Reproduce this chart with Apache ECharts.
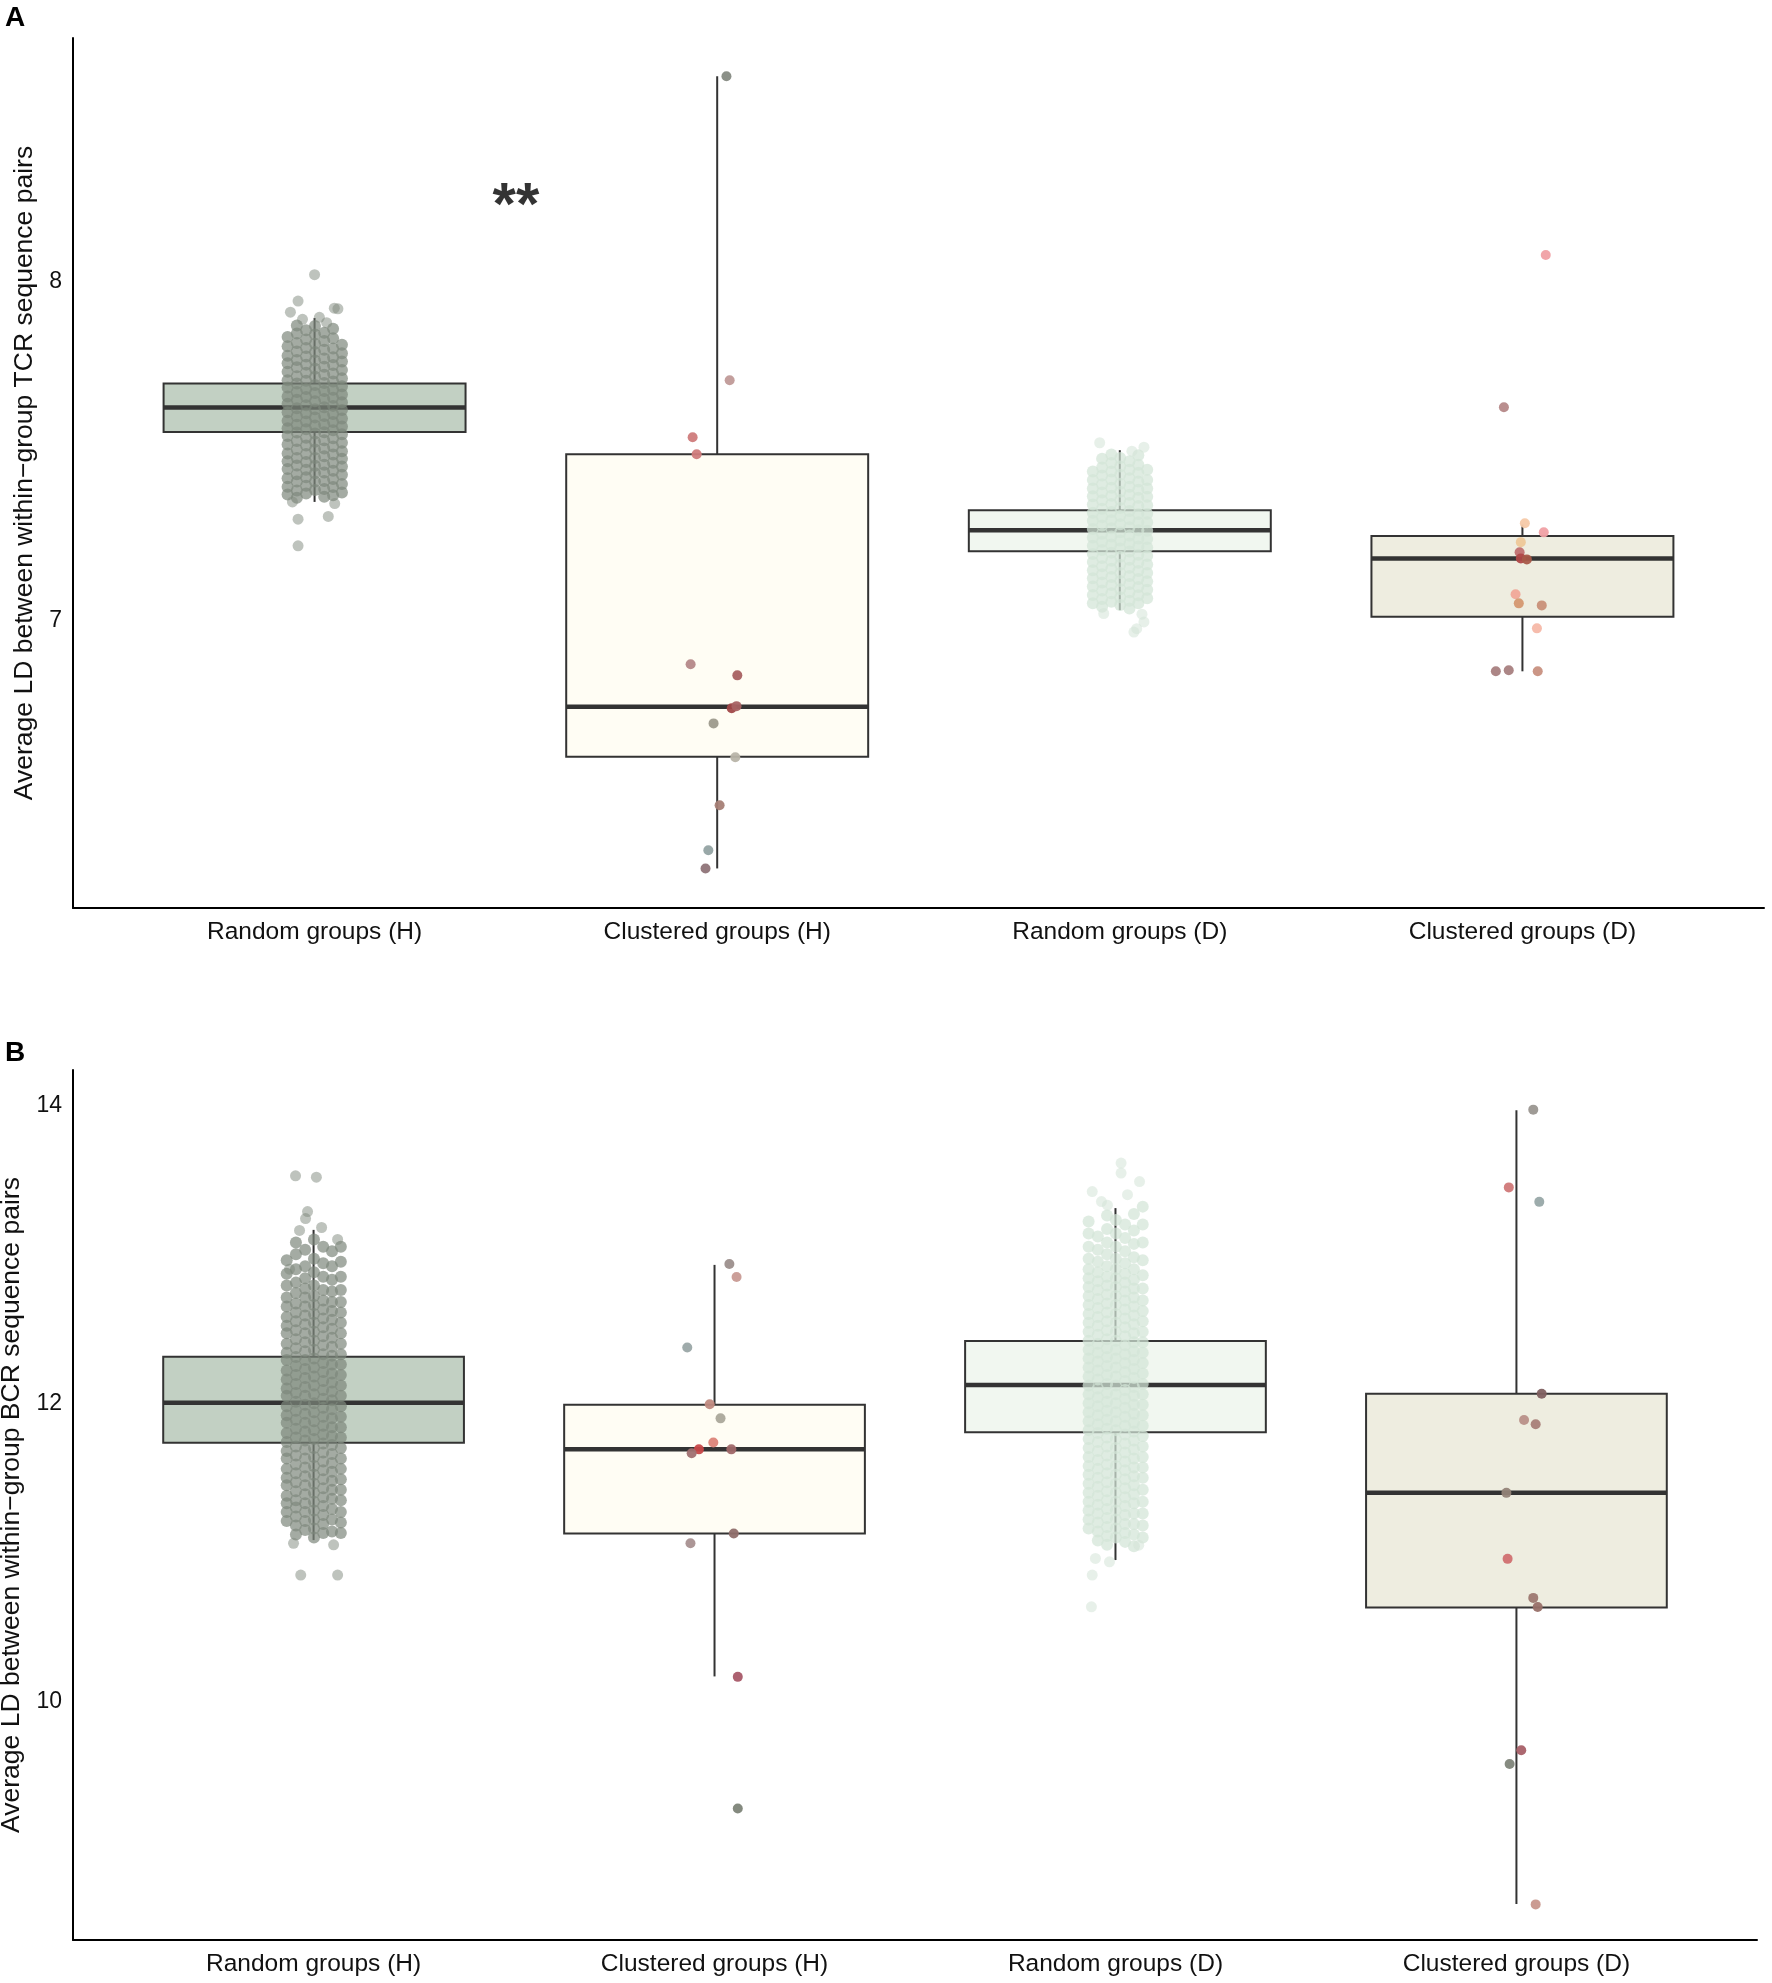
<!DOCTYPE html>
<html>
<head>
<meta charset="utf-8">
<title>Average LD within groups</title>
<script src="https://cdn.jsdelivr.net/npm/echarts@6/dist/echarts.min.js"></script>
<style>
html, body { margin: 0; padding: 0; background: #fff; }
#chart { width: 1772px; height: 1983px; }
</style>
</head>
<body>
<div id="chart"></div>
<script>
var categories = ['Random groups (H)', 'Clustered groups (H)', 'Random groups (D)', 'Clustered groups (D)'];
var boxFills = ['#c2d0c3', '#fffdf4', '#f1f7f0', '#eeede0'];

// box stats: [lower whisker, Q1, median, Q3, upper whisker]
var boxesTCR = [
	[7.350, 7.557, 7.629, 7.700, 7.894],
	[6.266, 6.596, 6.744, 7.491, 8.609],
	[7.030, 7.204, 7.266, 7.325, 7.503],
	[6.849, 7.010, 7.183, 7.249, 7.283]
];
var boxesBCR = [
	[11.082, 11.735, 12.004, 12.313, 13.164],
	[10.167, 11.126, 11.691, 11.991, 12.929],
	[10.948, 11.805, 12.123, 12.418, 13.310],
	[8.640, 10.629, 11.399, 12.064, 13.967]
];

// jitter offsets of the point columns in the random-group clouds
var jitterCols = [-0.067, -0.044, -0.021, 0.001, 0.024, 0.046, 0.068];

// TCR, random groups (H)
var randHA = [
	[7.372, 7.395, 7.42, 7.447, 7.47, 7.493, 7.52, 7.545, 7.568, 7.59, 7.615, 7.64, 7.662, 7.688, 7.71, 7.735, 7.76, 7.782, 7.81, 7.838],
	[7.362, 7.384, 7.41, 7.432, 7.458, 7.48, 7.505, 7.53, 7.555, 7.578, 7.603, 7.627, 7.652, 7.675, 7.7, 7.722, 7.748, 7.77, 7.795, 7.82, 7.848, 7.872],
	[7.375, 7.398, 7.423, 7.445, 7.468, 7.492, 7.517, 7.54, 7.565, 7.588, 7.612, 7.636, 7.66, 7.684, 7.708, 7.732, 7.756, 7.78, 7.805, 7.83, 7.858],
	[7.385, 7.41, 7.435, 7.457, 7.48, 7.505, 7.528, 7.552, 7.576, 7.6, 7.624, 7.648, 7.672, 7.696, 7.72, 7.744, 7.768, 7.793, 7.818, 7.845, 7.87],
	[7.365, 7.388, 7.412, 7.437, 7.46, 7.485, 7.508, 7.532, 7.556, 7.58, 7.604, 7.63, 7.654, 7.678, 7.702, 7.726, 7.75, 7.774, 7.8, 7.826, 7.85],
	[7.37, 7.394, 7.418, 7.442, 7.466, 7.49, 7.514, 7.538, 7.562, 7.586, 7.61, 7.634, 7.658, 7.682, 7.706, 7.73, 7.755, 7.778, 7.804, 7.834, 7.862],
	[7.378, 7.403, 7.43, 7.455, 7.478, 7.5, 7.525, 7.55, 7.573, 7.597, 7.622, 7.645, 7.668, 7.692, 7.716, 7.74, 7.765, 7.79, 7.815]
];
var randHA_out = [[0.0, 8.022], [-0.041, 7.944], [-0.060, 7.911], [0.049, 7.923], [0.058, 7.921], [0.012, 7.896],
	[-0.041, 7.299], [0.034, 7.307], [-0.041, 7.220], [-0.055, 7.35], [0.05, 7.345], [-0.03, 7.89], [0.03, 7.88]];

// TCR, random groups (D)
var randDA = [
	[7.05, 7.075, 7.1, 7.124, 7.148, 7.172, 7.196, 7.22, 7.245, 7.27, 7.294, 7.318, 7.342, 7.367, 7.39, 7.415, 7.44],
	[7.04, 7.063, 7.088, 7.112, 7.136, 7.16, 7.184, 7.208, 7.232, 7.256, 7.28, 7.305, 7.33, 7.355, 7.378, 7.402, 7.428, 7.452, 7.478],
	[7.055, 7.08, 7.104, 7.128, 7.152, 7.176, 7.2, 7.224, 7.248, 7.272, 7.296, 7.32, 7.344, 7.368, 7.392, 7.416, 7.44, 7.465, 7.49],
	[7.045, 7.068, 7.092, 7.116, 7.14, 7.164, 7.188, 7.212, 7.236, 7.26, 7.284, 7.308, 7.332, 7.356, 7.38, 7.404, 7.43, 7.455, 7.48],
	[7.035, 7.058, 7.083, 7.107, 7.131, 7.155, 7.179, 7.203, 7.227, 7.251, 7.275, 7.299, 7.323, 7.347, 7.371, 7.395, 7.42, 7.445, 7.47],
	[7.05, 7.074, 7.098, 7.122, 7.146, 7.17, 7.194, 7.218, 7.242, 7.266, 7.29, 7.314, 7.338, 7.362, 7.386, 7.41, 7.436, 7.46, 7.488],
	[7.065, 7.09, 7.115, 7.14, 7.165, 7.19, 7.215, 7.24, 7.265, 7.29, 7.315, 7.34, 7.365, 7.39, 7.415, 7.445]
];
var randDA_out = [[-0.05, 7.525], [0.06, 7.512], [0.03, 7.5], [0.042, 6.975], [0.06, 6.995], [0.035, 6.965],
	[-0.04, 7.02], [0.055, 7.018]];

// BCR, random groups (H)
var randHB = [
	[11.21, 11.27, 11.33, 11.38, 11.45, 11.5, 11.56, 11.63, 11.68, 11.74, 11.8, 11.87, 11.92, 11.98, 12.05, 12.1, 12.16, 12.22, 12.29, 12.34, 12.4, 12.47, 12.52, 12.58, 12.65, 12.71, 12.79, 12.87, 12.96],
	[11.12, 11.18, 11.24, 11.3, 11.35, 11.41, 11.47, 11.53, 11.59, 11.65, 11.71, 11.77, 11.83, 11.89, 11.95, 12.01, 12.07, 12.13, 12.19, 12.25, 12.31, 12.37, 12.43, 12.49, 12.55, 12.61, 12.67, 12.74, 12.81, 12.9, 13.0, 13.08],
	[11.15, 11.21, 11.27, 11.33, 11.39, 11.45, 11.51, 11.57, 11.63, 11.69, 11.75, 11.81, 11.87, 11.93, 11.99, 12.05, 12.11, 12.17, 12.23, 12.29, 12.35, 12.41, 12.47, 12.53, 12.59, 12.65, 12.71, 12.77, 12.84, 12.92, 13.03],
	[11.1, 11.16, 11.22, 11.28, 11.34, 11.4, 11.46, 11.52, 11.58, 11.64, 11.7, 11.76, 11.82, 11.88, 11.94, 12.0, 12.06, 12.12, 12.18, 12.24, 12.3, 12.36, 12.42, 12.48, 12.54, 12.6, 12.66, 12.72, 12.79, 12.88, 12.97, 13.1],
	[11.13, 11.19, 11.25, 11.31, 11.37, 11.43, 11.49, 11.55, 11.61, 11.67, 11.73, 11.79, 11.85, 11.91, 11.97, 12.03, 12.09, 12.15, 12.21, 12.27, 12.33, 12.39, 12.45, 12.51, 12.57, 12.63, 12.69, 12.76, 12.85, 12.94, 13.05],
	[11.14, 11.22, 11.29, 11.36, 11.42, 11.48, 11.54, 11.6, 11.66, 11.72, 11.78, 11.84, 11.9, 11.96, 12.02, 12.08, 12.14, 12.2, 12.26, 12.32, 12.38, 12.44, 12.5, 12.56, 12.62, 12.68, 12.75, 12.83, 12.92, 13.02],
	[11.13, 11.2, 11.27, 11.35, 11.42, 11.49, 11.56, 11.63, 11.7, 11.77, 11.84, 11.91, 11.98, 12.05, 12.12, 12.19, 12.26, 12.33, 12.4, 12.47, 12.54, 12.61, 12.68, 12.76, 12.85, 12.95, 13.05]
];
var randHB_out = [[-0.045, 13.527], [0.007, 13.518], [-0.015, 13.287], [-0.02, 13.24], [-0.035, 13.16], [0.02, 13.18],
	[-0.032, 10.847], [0.06, 10.847], [-0.05, 11.06], [0.05, 11.05], [-0.06, 12.9], [0.06, 13.1]];

// BCR, random groups (D)
var randDB = [
	[11.16, 11.22, 11.28, 11.34, 11.4, 11.46, 11.52, 11.58, 11.64, 11.7, 11.76, 11.82, 11.88, 11.94, 12.0, 12.06, 12.12, 12.18, 12.24, 12.3, 12.36, 12.42, 12.48, 12.54, 12.6, 12.66, 12.72, 12.78, 12.84, 12.9, 12.97, 13.05, 13.14, 13.22],
	[11.08, 11.14, 11.2, 11.26, 11.32, 11.38, 11.44, 11.5, 11.56, 11.62, 11.68, 11.74, 11.8, 11.86, 11.92, 11.98, 12.04, 12.1, 12.16, 12.22, 12.28, 12.34, 12.4, 12.46, 12.52, 12.58, 12.64, 12.7, 12.76, 12.82, 12.88, 12.95, 13.03, 13.12],
	[11.05, 11.11, 11.17, 11.23, 11.29, 11.35, 11.41, 11.47, 11.53, 11.59, 11.65, 11.71, 11.77, 11.83, 11.89, 11.95, 12.01, 12.07, 12.13, 12.19, 12.25, 12.31, 12.37, 12.43, 12.49, 12.55, 12.61, 12.67, 12.73, 12.79, 12.85, 12.92, 13.0, 13.08, 13.17, 13.26],
	[11.1, 11.16, 11.22, 11.28, 11.34, 11.4, 11.46, 11.52, 11.58, 11.64, 11.7, 11.76, 11.82, 11.88, 11.94, 12.0, 12.06, 12.12, 12.18, 12.24, 12.3, 12.36, 12.42, 12.48, 12.54, 12.6, 12.66, 12.72, 12.78, 12.84, 12.9, 12.97, 13.05, 13.14, 13.23],
	[11.07, 11.13, 11.19, 11.25, 11.31, 11.37, 11.43, 11.49, 11.55, 11.61, 11.67, 11.73, 11.79, 11.85, 11.91, 11.97, 12.03, 12.09, 12.15, 12.21, 12.27, 12.33, 12.39, 12.45, 12.51, 12.57, 12.63, 12.69, 12.75, 12.81, 12.87, 12.94, 13.02, 13.11, 13.2],
	[11.04, 11.12, 11.19, 11.26, 11.33, 11.39, 11.45, 11.51, 11.57, 11.63, 11.69, 11.75, 11.81, 11.87, 11.93, 11.99, 12.05, 12.11, 12.17, 12.23, 12.29, 12.35, 12.41, 12.47, 12.53, 12.59, 12.65, 12.71, 12.77, 12.83, 12.9, 12.98, 13.07, 13.16, 13.27],
	[11.1, 11.18, 11.26, 11.34, 11.42, 11.5, 11.57, 11.64, 11.71, 11.78, 11.85, 11.92, 11.99, 12.06, 12.13, 12.2, 12.27, 12.34, 12.41, 12.48, 12.55, 12.62, 12.69, 12.77, 12.86, 12.96, 13.08, 13.2, 13.32]
];
var randDB_out = [[0.014, 13.612], [0.014, 13.545], [0.06, 13.488], [-0.058, 13.421], [-0.035, 13.354], [0.058, 11.048],
	[-0.05, 10.959], [-0.015, 10.936], [-0.058, 10.847], [-0.06, 10.634], [0.03, 13.4], [-0.02, 13.33]];

// clustered groups: jitter offset, value, point colour
var clusHA_dx = [0.023, 0.031, -0.061, -0.051, -0.066, 0.05, 0.036, 0.048, -0.009, 0.045, 0.006, -0.022, -0.029];
var clusHA_val = [8.609, 7.710, 7.541, 7.491, 6.870, 6.837, 6.740, 6.746, 6.695, 6.595, 6.453, 6.320, 6.266];
var clusHA_col = ['#858a82', '#c09a98', '#cf7b7b', '#d07c7c', '#b58888', '#a86060', '#a14848', '#a86262', '#9d9a8c', '#b8b4a8', '#a78076', '#94a3a3', '#8f7478'];

var clusDA_dx = [0.058, -0.046, 0.006, 0.053, -0.004, -0.007, -0.004, 0.011, -0.017, -0.009, 0.048, 0.036, -0.066, -0.034, 0.038];
var clusDA_val = [8.080, 7.630, 7.287, 7.260, 7.231, 7.201, 7.183, 7.180, 7.077, 7.050, 7.044, 6.976, 6.849, 6.852, 6.849];
var clusDA_col = ['#f0a0a4', '#b58888', '#f5c9a8', '#f0a0a4', '#edc898', '#c07070', '#b04848', '#a85848', '#f0a898', '#d49870', '#c89078', '#f5b8a8', '#a88080', '#a88080', '#c89080'];

var clusHB_dx = [0.037, 0.055, -0.068, -0.012, 0.015, -0.003, -0.039, -0.057, 0.042, 0.048, -0.060, 0.058, 0.058];
var clusHB_val = [12.935, 12.848, 12.375, 11.994, 11.899, 11.737, 11.691, 11.665, 11.691, 11.126, 11.061, 10.164, 9.280];
var clusHB_col = ['#9c8f8c', '#c89a94', '#9aa6a6', '#c08a80', '#aba89a', '#dc8478', '#c84848', '#a07070', '#a06868', '#8f6e6a', '#a89090', '#a85868', '#7d8478'];

var clusDB_dx = [0.042, -0.019, 0.057, 0.063, 0.019, 0.048, -0.025, -0.022, 0.042, 0.053, 0.012, -0.017, 0.048];
var clusDB_val = [13.971, 13.449, 13.352, 12.064, 11.888, 11.860, 11.399, 10.956, 10.694, 10.633, 9.672, 9.579, 8.637];
var clusDB_col = ['#9a9690', '#d07878', '#98a8a8', '#806060', '#b89088', '#a88078', '#948478', '#d07070', '#9c7870', '#987068', '#a86068', '#7f857a', '#c8968c'];

// significance mark between the two H groups
var sigMark = [1.5, 8.22];

var BOX_WIDTH = 0.75;
var FONT = '"Liberation Sans", Arial, sans-serif';

var chart = echarts.init(document.getElementById('chart'), null, {renderer: 'canvas'});

var cloud = function (pos, vals) {
	var out = [];
	jitterCols.forEach(function (dx, i) {
		(vals[i] || []).forEach(function (v) { out.push([pos + dx, v]); });
	});
	return out;
};
var shifted = function (pos, pts) {
	return pts.map(function (p) { return [pos + p[0], p[1]]; });
};
var jittered = function (pos, dx, vals) {
	return vals.map(function (v, i) { return [pos + dx[i], v]; });
};

var renderBox = function (params, api) {
	var x = api.value(0);
	var tl = api.coord([x - BOX_WIDTH / 2, api.value(4)]);
	var br = api.coord([x + BOX_WIDTH / 2, api.value(2)]);
	var lo = api.coord([x, api.value(1)]);
	var q1 = api.coord([x, api.value(2)]);
	var md = api.coord([x, api.value(3)]);
	var q3 = api.coord([x, api.value(4)]);
	var hi = api.coord([x, api.value(5)]);
	var line = {stroke: '#333333', lineWidth: 2};
	return {
		type: 'group',
		children: [
			{type: 'line', shape: {x1: lo[0], y1: lo[1], x2: q1[0], y2: q1[1]}, style: line},
			{type: 'line', shape: {x1: q3[0], y1: q3[1], x2: hi[0], y2: hi[1]}, style: line},
			{type: 'rect', shape: {x: tl[0], y: tl[1], width: br[0] - tl[0], height: br[1] - tl[1]},
				style: {fill: boxFills[params.dataIndex], stroke: '#333333', lineWidth: 2}},
			{type: 'line', shape: {x1: tl[0], y1: md[1], x2: br[0], y2: md[1]},
				style: {stroke: '#333333', lineWidth: 4.5}}
		]
	};
};

var boxSeries = function (idx, boxes) {
	return {
		type: 'custom',
		xAxisIndex: idx,
		yAxisIndex: idx,
		renderItem: renderBox,
		encode: {x: 0, y: [1, 2, 3, 4, 5]},
		z: 1,
		silent: true,
		data: boxes.map(function (b, i) { return [i + 1].concat(b); })
	};
};
// dense core of a cloud is drawn stronger, its stray points lighter
var cloudSeries = function (idx, data, color, opacity, size) {
	return {
		type: 'scatter',
		xAxisIndex: idx,
		yAxisIndex: idx,
		symbolSize: size,
		z: 3,
		silent: true,
		itemStyle: {color: color, opacity: opacity},
		data: data
	};
};
var pointSeries = function (idx, data, colors) {
	return {
		type: 'scatter',
		xAxisIndex: idx,
		yAxisIndex: idx,
		symbolSize: 10,
		z: 4,
		silent: true,
		itemStyle: {
			opacity: 0.95,
			color: function (p) { return colors[p.dataIndex]; }
		},
		data: data
	};
};

var xAxisFor = function (idx) {
	return {
		type: 'value',
		gridIndex: idx,
		min: 0.4,
		max: 4.6,
		axisLine: {show: true, onZero: false, lineStyle: {color: '#000', width: 2}},
		axisTick: {show: false},
		splitLine: {show: false},
		axisLabel: {
			customValues: [1, 2, 3, 4],
			margin: 12,
			fontSize: 24.5,
			fontFamily: FONT,
			color: '#111',
			formatter: function (v) { return categories[Math.round(v) - 1] || ''; }
		}
	};
};
var yAxisFor = function (idx, min, max, ticks, name) {
	return {
		type: 'value',
		gridIndex: idx,
		min: min,
		max: max,
		name: name,
		nameLocation: 'middle',
		nameGap: 32,
		nameTextStyle: {fontSize: 26.5, fontFamily: FONT, color: '#111'},
		axisLine: {show: true, onZero: false, lineStyle: {color: '#000', width: 2}},
		axisTick: {show: false},
		splitLine: {show: false},
		axisLabel: {
			customValues: ticks,
			margin: 11,
			fontSize: 23,
			fontFamily: FONT,
			color: '#111'
		}
	};
};

var option = {
	backgroundColor: '#fff',
	animation: false,
	grid: [
		{left: 73, right: 8, top: 38, height: 870, containLabel: false, outerBoundsMode: 'none'},
		{left: 73, right: 15, top: 1070, height: 870, containLabel: false, outerBoundsMode: 'none'}
	],
	xAxis: [xAxisFor(0), xAxisFor(1)],
	yAxis: [
		yAxisFor(0, 6.149, 8.722, [7, 8], 'Average LD between within\u2212group TCR sequence pairs'),
		yAxisFor(1, 8.398, 14.237, [10, 12, 14], 'Average LD between within\u2212group BCR sequence pairs')
	],
	graphic: [
		{type: 'text', left: 5, top: 4, style: {text: 'A', font: 'bold 28px ' + FONT, fill: '#000'}},
		{type: 'text', left: 5, top: 1039, style: {text: 'B', font: 'bold 28px ' + FONT, fill: '#000'}}
	],
	series: [
		boxSeries(0, boxesTCR),
		cloudSeries(0, cloud(1, randHA), '#7d877c', 0.7, 12),
		cloudSeries(0, shifted(1, randHA_out), '#7d877c', 0.5, 11),
		cloudSeries(0, cloud(3, randDA), '#d3e4d7', 0.72, 12),
		cloudSeries(0, shifted(3, randDA_out), '#d3e4d7', 0.55, 11),
		pointSeries(0, jittered(2, clusHA_dx, clusHA_val), clusHA_col),
		pointSeries(0, jittered(4, clusDA_dx, clusDA_val), clusDA_col),
		{
			type: 'scatter',
			xAxisIndex: 0,
			yAxisIndex: 0,
			symbolSize: 0,
			z: 5,
			silent: true,
			label: {
				show: true, position: 'inside', formatter: '**',
				fontSize: 60, fontWeight: 'bold', fontFamily: FONT,
				color: '#000', textBorderWidth: 0
			},
			data: [sigMark]
		},
		boxSeries(1, boxesBCR),
		cloudSeries(1, cloud(1, randHB), '#7d877c', 0.7, 12),
		cloudSeries(1, shifted(1, randHB_out), '#7d877c', 0.5, 11),
		cloudSeries(1, cloud(3, randDB), '#d3e4d7', 0.72, 12),
		cloudSeries(1, shifted(3, randDB_out), '#d3e4d7', 0.55, 11),
		pointSeries(1, jittered(2, clusHB_dx, clusHB_val), clusHB_col),
		pointSeries(1, jittered(4, clusDB_dx, clusDB_val), clusDB_col)
	]
};
chart.setOption(option);
</script>
</body>
</html>
